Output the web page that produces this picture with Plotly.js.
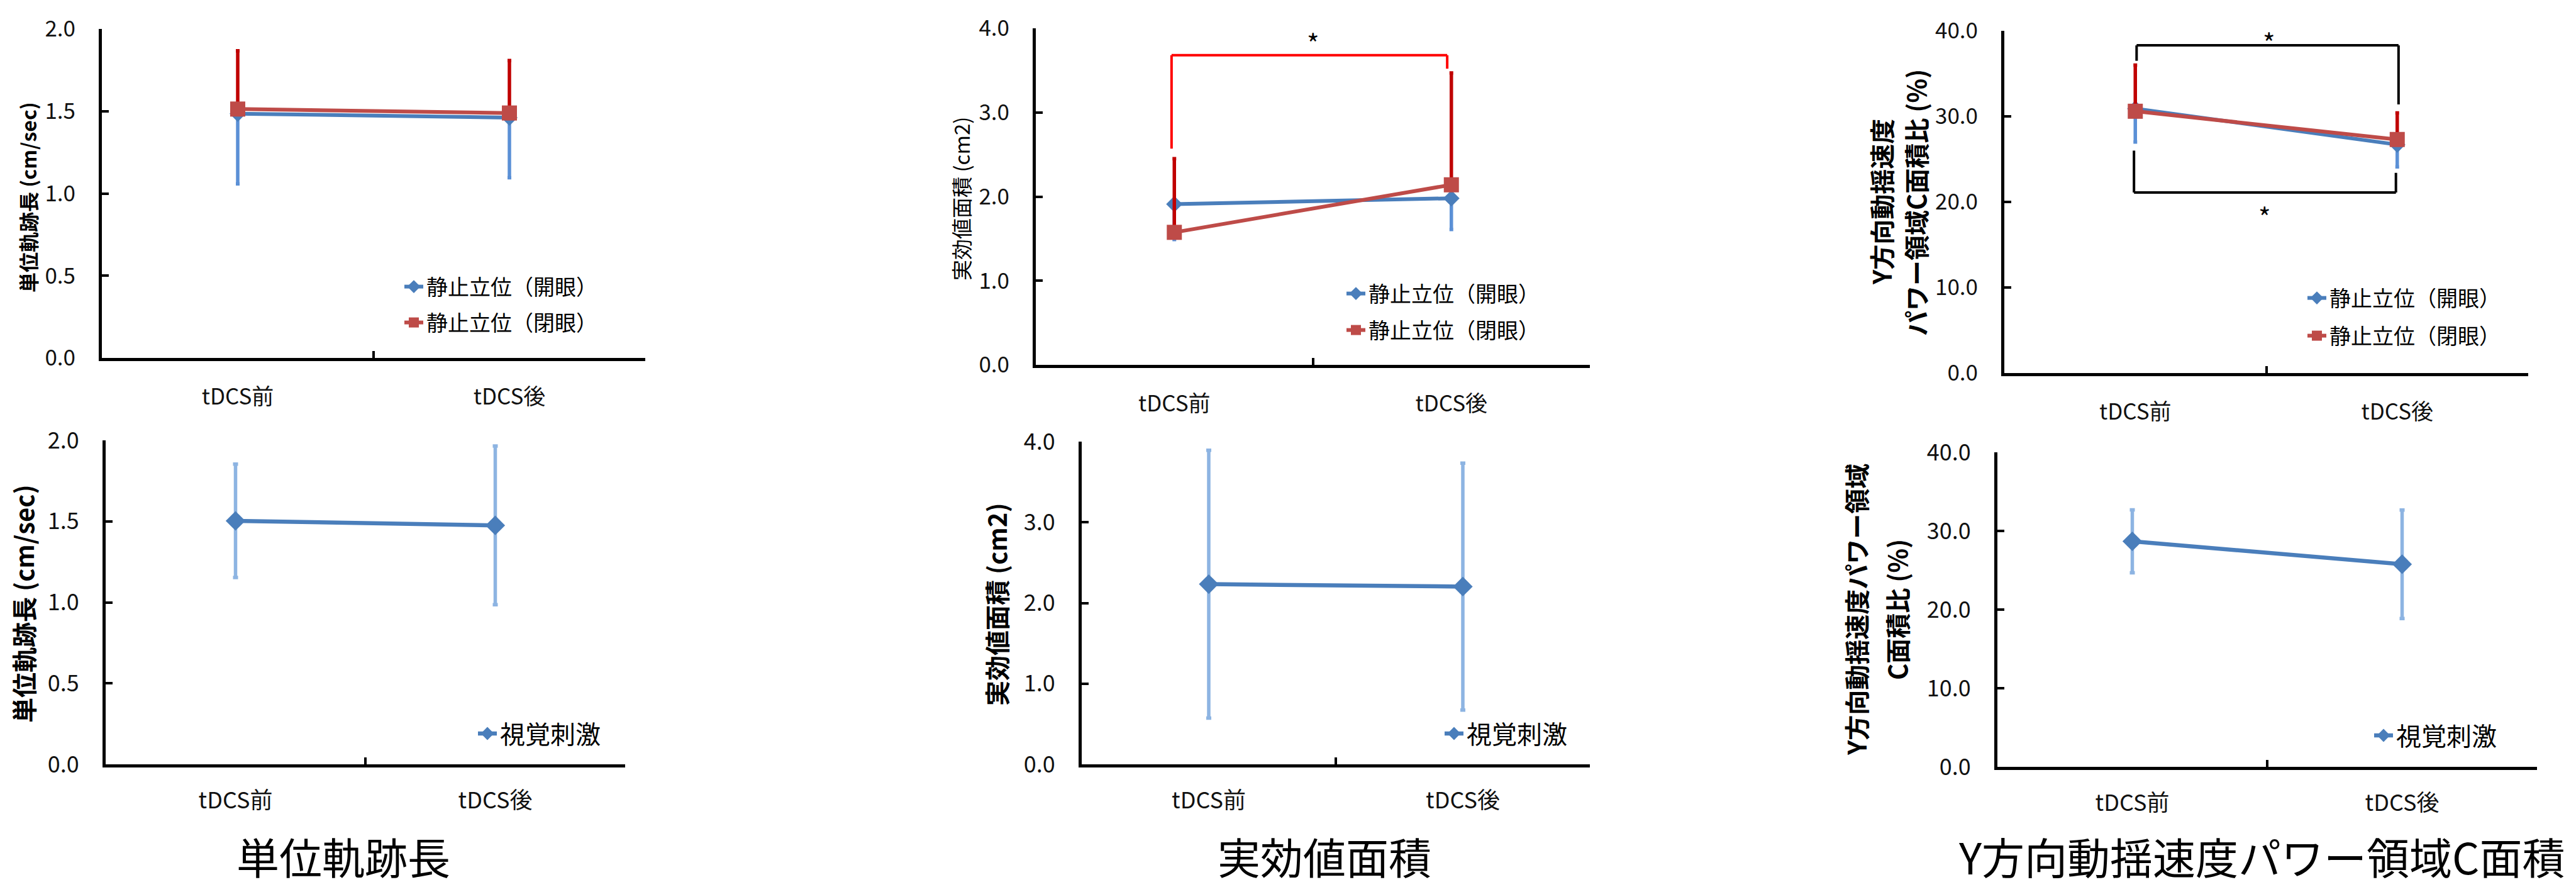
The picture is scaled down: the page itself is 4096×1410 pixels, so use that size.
<!DOCTYPE html>
<html>
<head>
<meta charset="utf-8">
<script src="https://cdn.plot.ly/plotly-3.0.1.min.js"></script>
<style>
  html, body { margin: 0; padding: 0; background: #ffffff; }
  #chart { width: 4096px; height: 1410px; }
</style>
</head>
<body>
<div id="chart"></div>
<script>
// ---------------- DATA ----------------
const categories = ['tDCS前', 'tDCS後'];

const seriesOpenName = '静止立位（開眼）';
const seriesClosedName = '静止立位（閉眼）';
const seriesVisualName = '視覚刺激';

// 単位軌跡長 (cm/sec)
const pathOpen = [1.485, 1.461];
const pathOpenErrMinus = [0.427, 0.365];
const pathClosed = [1.513, 1.489];
const pathClosedErrPlus = [0.354, 0.319];
const pathVisual = [1.503, 1.475];
const pathVisualErr = [0.35, 0.49];

// 実効値面積 (cm2)
const areaOpen = [1.91, 1.98];
const areaOpenErrMinus = [0.42, 0.37];
const areaClosed = [1.575, 2.14];
const areaClosedErrPlus = [0.875, 1.33];
const areaVisual = [2.233, 2.203];
const areaVisualErr = [1.66, 1.53];

// Y方向動揺速度パワー領域C面積比 (%)
const powerOpen = [30.9, 26.7];
const powerOpenErrMinus = [3.9, 2.6];
const powerClosed = [30.6, 27.3];
const powerClosedErrPlus = [5.4, 3.1];
const powerVisual = [28.68, 25.77];
const powerVisualErr = [4.0, 6.9];

// significance brackets: [x-left, x-right], [y-top, y-left-end, y-right-end]
const areaBracketX = [-0.01, 0.985];
const areaBracketY = [3.68, 2.57, 3.52];
const areaStar = [0.5, 3.9];
const powerBracketTopX = [0.005, 1.005];
const powerBracketTopY = [38.3, 36.5, 31.4];
const powerStarTop = [0.51, 39.4];
const powerBracketBotX = [-0.005, 0.995];
const powerBracketBotY = [21.1, 26.0, 23.4];
const powerStarBot = [0.495, 19.0];

// axis texts
const yTitlePath = '単位軌跡長 (cm/sec)';
const yTitleArea = '実効値面積 (cm2)';
const yTitlePowerTop = ['Y方向動揺速度', 'パワー領域C面積比 (%)'];
const yTitlePowerBot = ['Y方向動揺速度パワー領域', 'C面積比 (%)'];
const captions = ['単位軌跡長', '実効値面積', 'Y方向動揺速度パワー領域C面積'];

// ---------------- STYLE / LAYOUT ----------------
const W = 4096, H = 1410;
const FONT = '"Noto Sans CJK JP", "Noto Sans", sans-serif';
const BLUE = '#4A7EBB', RED = '#BE4B48';
const BLUE_ERR = '#5B90D6', RED_ERR = '#C00000', LIGHT_ERR = '#8DB4E2';
const px = v => v / W;
const py = v => 1 - v / H;

// panel boxes in window pixels: [left, right, top, bottom]
const boxes = [
  [162, 1026, 46, 569],
  [1647, 2528, 45, 580],
  [3187, 4020, 49, 593],
  [168, 994, 700, 1215],
  [1720, 2528, 702, 1215],
  [3176, 4034, 719, 1219]
];
const yMax = [2, 4, 40, 2, 4, 40];
const yStep = [0.5, 1, 10, 0.5, 1, 10];
const tickSize = [35, 35, 35, 36, 36, 36];
const xStandoff = [27, 27, 27, 22, 22, 22];

const layout = {
  width: W, height: H,
  margin: {l: 0, r: 0, t: 0, b: 0},
  paper_bgcolor: '#ffffff', plot_bgcolor: 'rgba(0,0,0,0)',
  font: {family: FONT, color: '#000'},
  showlegend: true,
  annotations: [], shapes: []
};

boxes.forEach((b, i) => {
  const n = i === 0 ? '' : String(i + 1);
  layout['xaxis' + n] = {
    domain: [px(b[0]), px(b[1])], anchor: 'y' + n,
    type: 'category', range: [-0.5, 1.5],
    showline: true, linecolor: '#000', linewidth: 5,
    ticks: 'inside', tickson: 'boundaries', ticklen: 11, tickwidth: 4, tickcolor: '#000',
    showgrid: false, zeroline: false,
    tickfont: {family: FONT, size: tickSize[i], color: '#111'},
    ticklabelstandoff: xStandoff[i], fixedrange: true
  };
  layout['yaxis' + n] = {
    domain: [py(b[3]), py(b[2])], anchor: 'x' + n,
    range: [0, yMax[i]], tick0: 0, dtick: yStep[i], tickformat: '.1f',
    showline: true, linecolor: '#000', linewidth: 5,
    ticks: 'inside', ticklen: 11, tickwidth: 4, tickcolor: '#000',
    showgrid: false, zeroline: false,
    tickfont: {family: FONT, size: tickSize[i], color: '#111'},
    ticklabelstandoff: 30, fixedrange: true
  };
});

// legends, one per entry: [textStartX, centerY, fontSize]
const legendSpots = [
  [682, 456, 34], [682, 513, 34],
  [2180, 467, 34], [2180, 525, 34],
  [3708, 474, 34], [3708, 534, 34],
  [799, 1166, 40], [2336, 1166, 40], [3814, 1169, 40]
];
legendSpots.forEach((s, i) => {
  const key = i === 0 ? 'legend' : 'legend' + (i + 1);
  layout[key] = {
    x: px(s[0] - 44), y: py(s[1]), xanchor: 'left', yanchor: 'middle',
    bgcolor: 'rgba(0,0,0,0)', borderwidth: 0,
    font: {family: FONT, size: s[2], color: '#000'}
  };
});
const lg = i => (i === 0 ? 'legend' : 'legend' + (i + 1));

function openTrace(y, em, n, li) {
  return {
    x: categories, y: y, xaxis: 'x' + n, yaxis: 'y' + n,
    type: 'scatter', mode: 'lines+markers', name: seriesOpenName, legend: lg(li),
    line: {color: BLUE, width: 6},
    marker: {symbol: 'diamond', size: 20, color: BLUE},
    error_y: {type: 'data', symmetric: false, array: em.map(() => 0), arrayminus: em,
              color: BLUE_ERR, thickness: 5.5, width: 3}
  };
}
function closedTrace(y, ep, n, li) {
  return {
    x: categories, y: y, xaxis: 'x' + n, yaxis: 'y' + n,
    type: 'scatter', mode: 'lines+markers', name: seriesClosedName, legend: lg(li),
    line: {color: RED, width: 6},
    marker: {symbol: 'square', size: 24, color: RED},
    error_y: {type: 'data', symmetric: false, array: ep, arrayminus: ep.map(() => 0),
              color: RED_ERR, thickness: 5.5, width: 3}
  };
}
function visualTrace(y, e, n, li) {
  return {
    x: categories, y: y, xaxis: 'x' + n, yaxis: 'y' + n,
    type: 'scatter', mode: 'lines+markers', name: seriesVisualName, legend: lg(li),
    line: {color: BLUE, width: 6.5},
    marker: {symbol: 'diamond', size: 24, color: BLUE},
    error_y: {type: 'data', symmetric: true, array: e,
              color: LIGHT_ERR, thickness: 5.5, width: 4}
  };
}

const data = [
  openTrace(pathOpen, pathOpenErrMinus, '', 0),
  closedTrace(pathClosed, pathClosedErrPlus, '', 1),
  openTrace(areaOpen, areaOpenErrMinus, '2', 2),
  closedTrace(areaClosed, areaClosedErrPlus, '2', 3),
  openTrace(powerOpen, powerOpenErrMinus, '3', 4),
  closedTrace(powerClosed, powerClosedErrPlus, '3', 5),
  visualTrace(pathVisual, pathVisualErr, '4', 6),
  visualTrace(areaVisual, areaVisualErr, '5', 7),
  visualTrace(powerVisual, powerVisualErr, '6', 8)
];

// brackets
function bracket(xr, yr, bx, by, color) {
  const line = {color: color, width: 4};
  return [
    {type: 'line', xref: xr, yref: yr, x0: bx[0], x1: bx[1], y0: by[0], y1: by[0], line},
    {type: 'line', xref: xr, yref: yr, x0: bx[0], x1: bx[0], y0: by[0], y1: by[1], line},
    {type: 'line', xref: xr, yref: yr, x0: bx[1], x1: bx[1], y0: by[0], y1: by[2], line}
  ];
}
layout.shapes.push(...bracket('x2', 'y2', areaBracketX, areaBracketY, '#FF0000'));
layout.shapes.push(...bracket('x3', 'y3', powerBracketTopX, powerBracketTopY, '#000000'));
layout.shapes.push(...bracket('x3', 'y3', powerBracketBotX, powerBracketBotY, '#000000'));

function star(xr, yr, p) {
  return {xref: xr, yref: yr, x: p[0], y: p[1], text: '*', showarrow: false,
          xanchor: 'center', yanchor: 'middle', yshift: -9,
          font: {family: FONT, size: 42, color: '#000'}};
}
layout.annotations.push(star('x2', 'y2', areaStar));
layout.annotations.push(star('x3', 'y3', powerStarTop));
layout.annotations.push(star('x3', 'y3', powerStarBot));

// axis titles (rotated)
function vtitle(text, cx, cy, size, bold) {
  return {xref: 'paper', yref: 'paper', x: px(cx), y: py(cy), text: text,
          textangle: -90, showarrow: false, xanchor: 'center', yanchor: 'middle',
          font: {family: FONT, size: size, color: '#000', weight: bold ? 700 : 400}};
}
layout.annotations.push(vtitle(yTitlePath, 44, 314, 32, true));
layout.annotations.push(vtitle(yTitleArea, 1528, 316, 33, false));
layout.annotations.push(vtitle(yTitlePowerTop[0], 2991, 321, 40, true));
layout.annotations.push(vtitle(yTitlePowerTop[1], 3046, 322, 40, true));
layout.annotations.push(vtitle(yTitlePath, 37, 960, 40, true));
layout.annotations.push(vtitle(yTitleArea, 1584, 961, 40, true));
layout.annotations.push(vtitle(yTitlePowerBot[0], 2951, 969, 40, true));
layout.annotations.push(vtitle(yTitlePowerBot[1], 3016, 969, 40, true));

// bottom captions
const captionX = [546, 2106, 3596];
captions.forEach((c, i) => {
  layout.annotations.push({xref: 'paper', yref: 'paper', x: px(captionX[i]), y: py(1360),
    text: c, showarrow: false, xanchor: 'center', yanchor: 'middle',
    font: {family: FONT, size: 68, color: '#000'}});
});

Plotly.newPlot('chart', data, layout, {staticPlot: true, displayModeBar: false});
</script>
</body>
</html>
